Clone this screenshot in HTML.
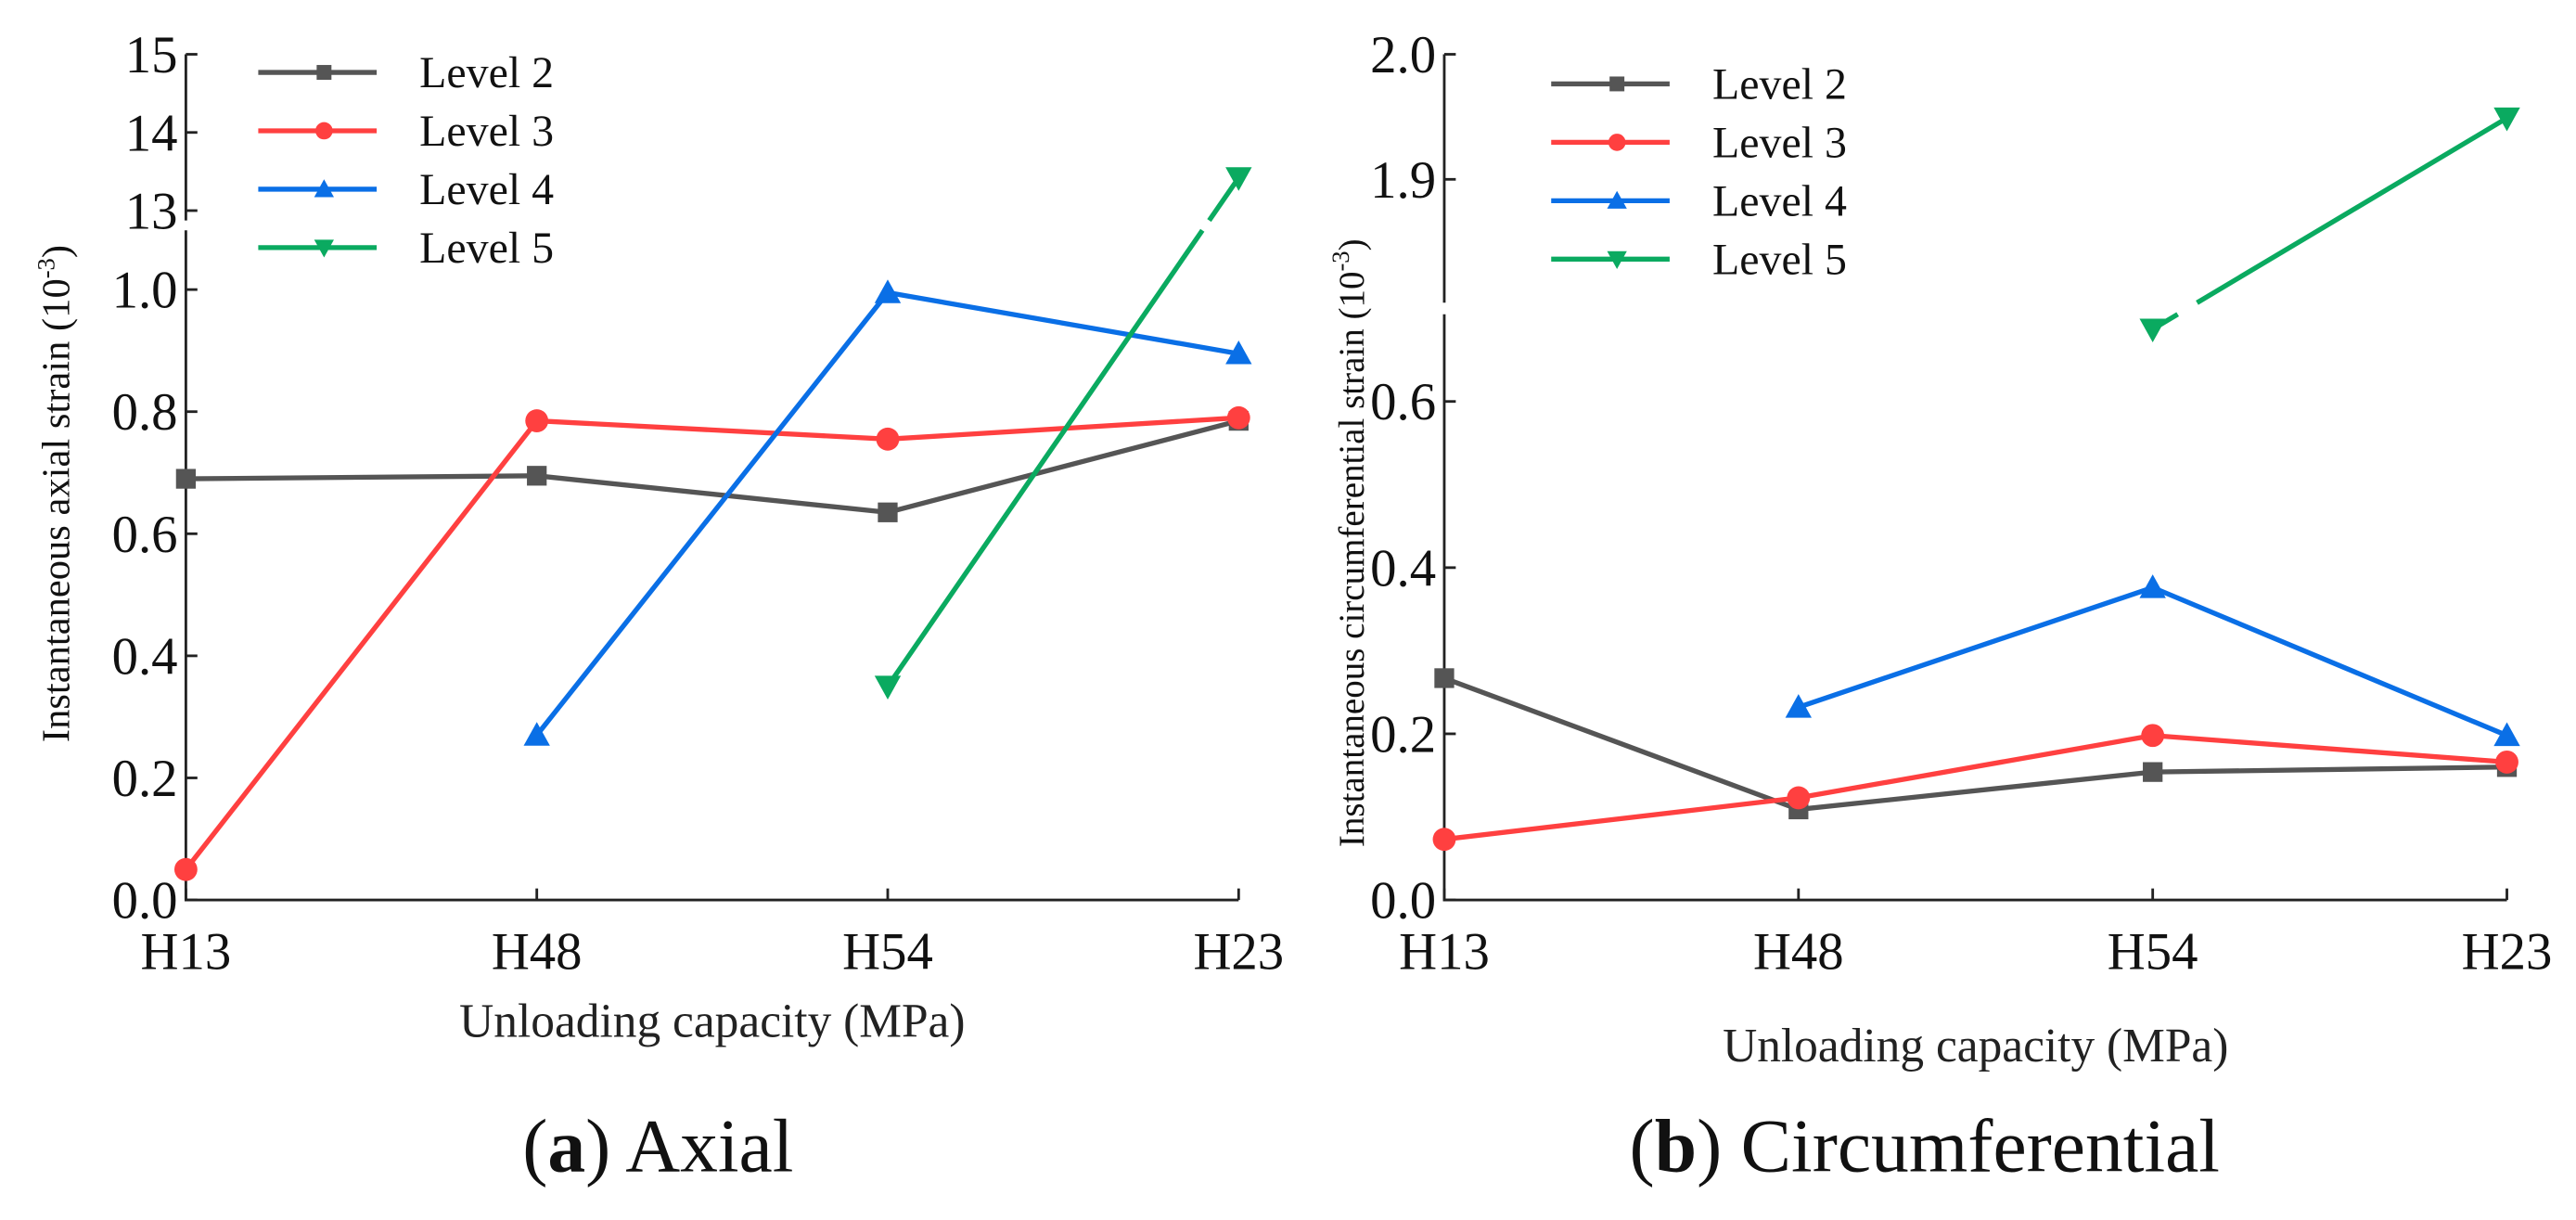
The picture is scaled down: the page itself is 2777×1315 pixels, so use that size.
<!DOCTYPE html>
<html><head><meta charset="utf-8"><style>
html,body{margin:0;padding:0;background:#fff;}
svg{display:block;font-family:"Liberation Serif",serif;}
</style></head><body>
<svg id="fig" width="2777" height="1315" viewBox="0 0 1566 741.5" preserveAspectRatio="none"></svg>
<script>
const categories=["H13","H48","H54","H23"];
const seriesNames=["Level 2","Level 3","Level 4","Level 5"];
const colors=["#555555","#ff4040","#0a6fe6","#0aaa60"];
const markers=["square","circle","up","down"];
// Axial (a)
const axL2=[0.69,0.695,0.635,0.785];
const axL3=[0.05,0.785,0.755,0.79];
const axL4=[null,0.27,0.995,0.895];
const axL5=[null,null,0.35,13.42];
const axTicks=["0.0","0.2","0.4","0.6","0.8","1.0","13","14","15"];
const axTickVals=[0,0.2,0.4,0.6,0.8,1.0,13,14,15];
// Circumferential (b)
const ciL2=[0.267,0.109,0.154,0.16];
const ciL3=[0.073,0.123,0.198,0.166];
const ciL4=[null,0.232,0.376,0.198];
const ciL5=[null,null,0.687,1.949];
const ciTicks=["0.0","0.2","0.4","0.6","1.9","2.0"];
const ciTickVals=[0,0.2,0.4,0.6,1.9,2.0];

const NS="http://www.w3.org/2000/svg";
const svg=document.getElementById('fig');
function mk(tag,attrs,parent){const e=document.createElementNS(NS,tag);for(const k in attrs)e.setAttribute(k,attrs[k]);(parent||svg).appendChild(e);return e;}

function drawChart(cfg){
  const g=mk('g',{});
  
  
  const xs=i=>cfg.x0+i*(cfg.x1-cfg.x0)/(categories.length-1);
  const ax=mk('path',{d:`M${cfg.x0},${cfg.top} V${cfg.brkA} M${cfg.x0},${cfg.brkB} V${cfg.base} H${cfg.x1}`,stroke:'#222','stroke-width':1.6,fill:'none'},g);
  
  
  cfg.tickVals.forEach((v,i)=>{
    const y=cfg.y(v);
    mk('line',{x1:cfg.x0,x2:cfg.x0+7,y1:y,y2:y,stroke:'#222','stroke-width':1.6},g);
    const t=mk('text',{x:cfg.x0-5,y:y+11,'text-anchor':'end','font-size':32,fill:'#111'},g);
    t.textContent=cfg.ticks[i];
    
    
  });
  categories.forEach((c,i)=>{
    const x=xs(i);
    mk('line',{x1:x,x2:x,y1:cfg.base,y2:cfg.base-7,stroke:'#222','stroke-width':1.6},g);
    const t=mk('text',{x:x,y:cfg.base+42,'text-anchor':'middle','font-size':32,fill:'#111'},g);
    t.textContent=c;
    
    
  });
  cfg.series.forEach((vals,s)=>{
    const sg=mk('g',{},g);
    
    
    const pts=[];vals.forEach((v,i)=>{if(v!==null)pts.push([xs(i),cfg.y(v)]);});
    for(let k=0;k<pts.length-1;k++){
      const [ax1,ay1]=pts[k],[bx,by]=pts[k+1];
      const segs=[];
      const lo=Math.max(ay1,by),hi=Math.min(ay1,by);
      if(lo>cfg.brkB && hi<cfg.brkA){
        const at=yy=>ax1+(bx-ax1)*(yy-ay1)/(by-ay1);
        if(ay1>by){segs.push([ax1,ay1,at(cfg.brkB),cfg.brkB]);segs.push([at(cfg.brkA),cfg.brkA,bx,by]);}
        else{segs.push([ax1,ay1,at(cfg.brkA),cfg.brkA]);segs.push([at(cfg.brkB),cfg.brkB,bx,by]);}
      } else segs.push([ax1,ay1,bx,by]);
      segs.forEach(q=>mk('line',{x1:q[0],y1:q[1],x2:q[2],y2:q[3],stroke:colors[s],'stroke-width':3},sg));
    }
    pts.forEach(p=>marker(sg,markers[s],p[0],p[1],colors[s]));
  });
  const lg=mk('g',{},g);
  
  
  seriesNames.forEach((n,s)=>{
    const y=cfg.legY+s*cfg.legStep;
    const eg=mk('g',{},lg);
    
    
    mk('line',{x1:cfg.legX,x2:cfg.legX+72,y1:y,y2:y,stroke:colors[s],'stroke-width':3},eg);
    marker(eg,markers[s],cfg.legX+40,y,colors[s],0.75);
    const t=mk('text',{x:cfg.legX+98,y:y+9,'font-size':27,fill:'#111'},eg);
    t.textContent=n;
  });
  const yt=mk('text',{x:0,y:0,transform:`translate(${cfg.ytX},${cfg.ytY}) rotate(-90)`,'text-anchor':'middle','font-size':cfg.ytSize,fill:'#111'},g);
  yt.innerHTML=cfg.ytitle+' (10<tspan dy="-9" font-size="15">-3</tspan><tspan dy="9">)</tspan>';
  
  
  const xt=mk('text',{x:(cfg.x0+cfg.x1)/2,y:cfg.xtY,'text-anchor':'middle','font-size':29,fill:'#222'},g);
  xt.textContent='Unloading capacity (MPa)';
  
  
  const cp=mk('text',{x:cfg.capX,y:cfg.capY,'text-anchor':'middle','font-size':46,fill:'#111'},g);
  cp.innerHTML='(<tspan font-weight="bold">'+cfg.capL+'</tspan>) '+cfg.capT;
  
  
}
function marker(g,type,x,y,c,sc){
  sc=sc||1;let e;
  if(type==='square'){const h=6*sc;e=mk('rect',{x:x-h,y:y-h,width:2*h,height:2*h,fill:c},g);}
  else if(type==='circle'){e=mk('circle',{cx:x,cy:y,r:7*sc,fill:c},g);}
  else if(type==='up'){const h=8*sc;e=mk('polygon',{points:`${x},${y-h} ${x+h},${y+h*0.8} ${x-h},${y+h*0.8}`,fill:c},g);}
  else {const h=8*sc;e=mk('polygon',{points:`${x},${y+h} ${x+h},${y-h*0.8} ${x-h},${y-h*0.8}`,fill:c},g);}
  
  
}
drawChart({name:'axial-chart',x0:113,x1:753,base:547,top:33,brkA:134,brkB:140,
  y:v=>v<=1.2?547-v*371:128-(v-13)*47.5,
  ticks:axTicks,tickVals:axTickVals,series:[axL2,axL3,axL4,axL5],
  legX:157,legY:44,legStep:35.5,ytitle:'Instantaneous axial strain',ytSize:24,ytX:42,ytY:300,xtY:630,
  capX:400,capY:712,capL:'a',capT:'Axial'});
drawChart({name:'circumferential-chart',x0:878,x1:1524,base:547,top:33,brkA:184,brkB:191,
  y:v=>v<=0.8?547-v*505:33+(2.0-v)*760,
  ticks:ciTicks,tickVals:ciTickVals,series:[ciL2,ciL3,ciL4,ciL5],
  legX:943,legY:51,legStep:35.5,ytitle:'Instantaneous circumferential strain',ytSize:22,ytX:829,ytY:330,xtY:645,
  capX:1170,capY:712,capL:'b',capT:'Circumferential'});
</script>
</body></html>
